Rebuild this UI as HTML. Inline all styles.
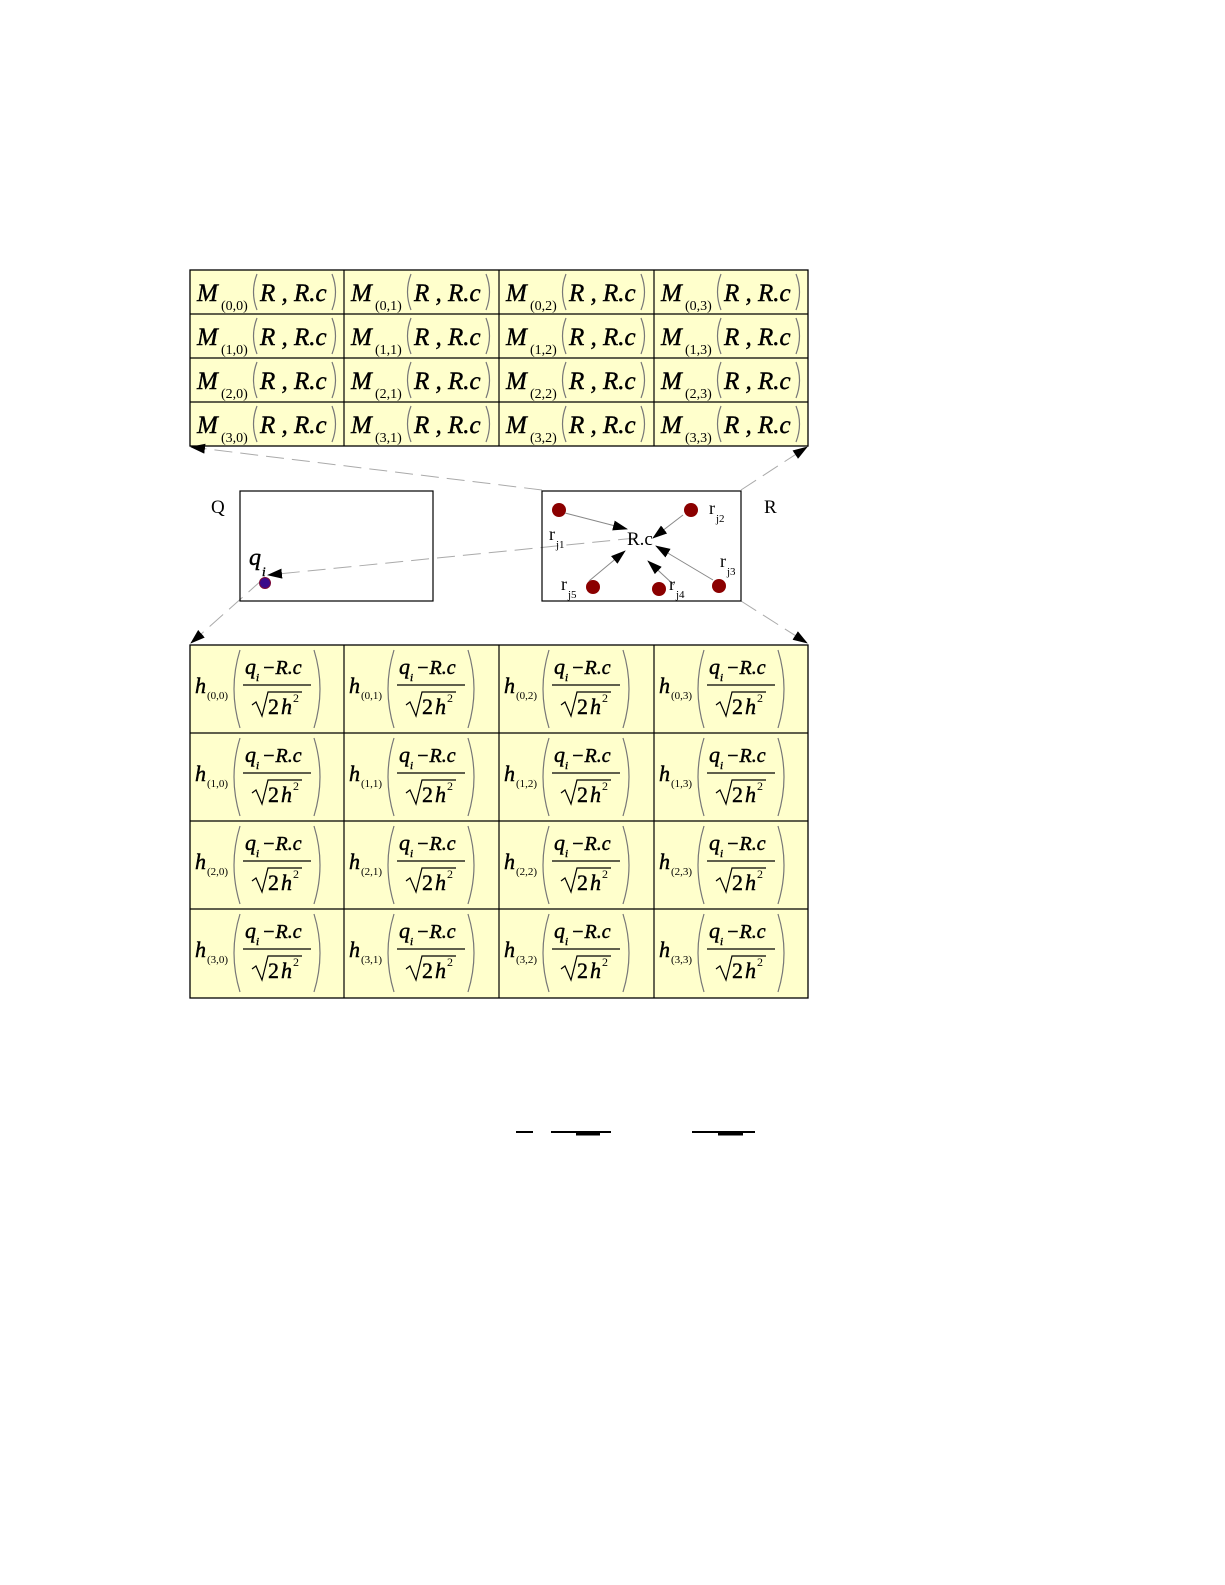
<!DOCTYPE html>
<html><head><meta charset="utf-8"><style>
html,body{margin:0;padding:0;background:#fff;overflow:hidden;width:1225px;height:1585px}
svg{display:block}
text{font-family:"Liberation Serif",serif}
.i{font-style:italic;stroke:#000;stroke-width:0.45}
.p{fill:none;stroke:#777;stroke-width:1.2}
</style></head><body>
<svg width="1225" height="1585" viewBox="0 0 1225 1585" xmlns="http://www.w3.org/2000/svg">
<defs>
<marker id="a" markerWidth="16" markerHeight="10" refX="14" refY="5" orient="auto" markerUnits="userSpaceOnUse"><path d="M0,0 L15,5 L0,10 Z" fill="#000"/></marker>
</defs>
<rect x="190" y="270" width="618" height="176" fill="#ffffcc" stroke="#000" stroke-width="1.3"/>
<g stroke="#000" stroke-width="1.2">
<line x1="190" y1="314" x2="808" y2="314"/><line x1="190" y1="358" x2="808" y2="358"/><line x1="190" y1="402" x2="808" y2="402"/>
<line x1="344" y1="270" x2="344" y2="446"/><line x1="499" y1="270" x2="499" y2="446"/><line x1="654" y1="270" x2="654" y2="446"/>
</g>
<g font-size="25">
<g transform="translate(190,270)"><text x="7" y="31" class="i" font-size="25">M</text><text x="31" y="40" font-size="14">(0,0)</text><path class="p" d="M67,4 Q60,22 67,40M142,4 Q149,22 142,40"/><text x="70" y="31" class="i">R , R.c</text></g>
<g transform="translate(344,270)"><text x="7" y="31" class="i" font-size="25">M</text><text x="31" y="40" font-size="14">(0,1)</text><path class="p" d="M67,4 Q60,22 67,40M142,4 Q149,22 142,40"/><text x="70" y="31" class="i">R , R.c</text></g>
<g transform="translate(499,270)"><text x="7" y="31" class="i" font-size="25">M</text><text x="31" y="40" font-size="14">(0,2)</text><path class="p" d="M67,4 Q60,22 67,40M142,4 Q149,22 142,40"/><text x="70" y="31" class="i">R , R.c</text></g>
<g transform="translate(654,270)"><text x="7" y="31" class="i" font-size="25">M</text><text x="31" y="40" font-size="14">(0,3)</text><path class="p" d="M67,4 Q60,22 67,40M142,4 Q149,22 142,40"/><text x="70" y="31" class="i">R , R.c</text></g>
<g transform="translate(190,314)"><text x="7" y="31" class="i" font-size="25">M</text><text x="31" y="40" font-size="14">(1,0)</text><path class="p" d="M67,4 Q60,22 67,40M142,4 Q149,22 142,40"/><text x="70" y="31" class="i">R , R.c</text></g>
<g transform="translate(344,314)"><text x="7" y="31" class="i" font-size="25">M</text><text x="31" y="40" font-size="14">(1,1)</text><path class="p" d="M67,4 Q60,22 67,40M142,4 Q149,22 142,40"/><text x="70" y="31" class="i">R , R.c</text></g>
<g transform="translate(499,314)"><text x="7" y="31" class="i" font-size="25">M</text><text x="31" y="40" font-size="14">(1,2)</text><path class="p" d="M67,4 Q60,22 67,40M142,4 Q149,22 142,40"/><text x="70" y="31" class="i">R , R.c</text></g>
<g transform="translate(654,314)"><text x="7" y="31" class="i" font-size="25">M</text><text x="31" y="40" font-size="14">(1,3)</text><path class="p" d="M67,4 Q60,22 67,40M142,4 Q149,22 142,40"/><text x="70" y="31" class="i">R , R.c</text></g>
<g transform="translate(190,358)"><text x="7" y="31" class="i" font-size="25">M</text><text x="31" y="40" font-size="14">(2,0)</text><path class="p" d="M67,4 Q60,22 67,40M142,4 Q149,22 142,40"/><text x="70" y="31" class="i">R , R.c</text></g>
<g transform="translate(344,358)"><text x="7" y="31" class="i" font-size="25">M</text><text x="31" y="40" font-size="14">(2,1)</text><path class="p" d="M67,4 Q60,22 67,40M142,4 Q149,22 142,40"/><text x="70" y="31" class="i">R , R.c</text></g>
<g transform="translate(499,358)"><text x="7" y="31" class="i" font-size="25">M</text><text x="31" y="40" font-size="14">(2,2)</text><path class="p" d="M67,4 Q60,22 67,40M142,4 Q149,22 142,40"/><text x="70" y="31" class="i">R , R.c</text></g>
<g transform="translate(654,358)"><text x="7" y="31" class="i" font-size="25">M</text><text x="31" y="40" font-size="14">(2,3)</text><path class="p" d="M67,4 Q60,22 67,40M142,4 Q149,22 142,40"/><text x="70" y="31" class="i">R , R.c</text></g>
<g transform="translate(190,402)"><text x="7" y="31" class="i" font-size="25">M</text><text x="31" y="40" font-size="14">(3,0)</text><path class="p" d="M67,4 Q60,22 67,40M142,4 Q149,22 142,40"/><text x="70" y="31" class="i">R , R.c</text></g>
<g transform="translate(344,402)"><text x="7" y="31" class="i" font-size="25">M</text><text x="31" y="40" font-size="14">(3,1)</text><path class="p" d="M67,4 Q60,22 67,40M142,4 Q149,22 142,40"/><text x="70" y="31" class="i">R , R.c</text></g>
<g transform="translate(499,402)"><text x="7" y="31" class="i" font-size="25">M</text><text x="31" y="40" font-size="14">(3,2)</text><path class="p" d="M67,4 Q60,22 67,40M142,4 Q149,22 142,40"/><text x="70" y="31" class="i">R , R.c</text></g>
<g transform="translate(654,402)"><text x="7" y="31" class="i" font-size="25">M</text><text x="31" y="40" font-size="14">(3,3)</text><path class="p" d="M67,4 Q60,22 67,40M142,4 Q149,22 142,40"/><text x="70" y="31" class="i">R , R.c</text></g>
</g>

<g stroke="#aaa" stroke-width="1" stroke-dasharray="18,8" fill="none">
<line x1="542" y1="490" x2="191" y2="447" marker-end="url(#a)"/>
<line x1="741" y1="490" x2="807" y2="447" marker-end="url(#a)"/>
<line x1="262" y1="580" x2="191" y2="643" marker-end="url(#a)"/>
<line x1="741" y1="601" x2="807" y2="643" marker-end="url(#a)"/>
<line x1="636" y1="538" x2="268" y2="575" marker-end="url(#a)"/>
</g>

<rect x="240" y="491" width="193" height="110" fill="none" stroke="#000" stroke-width="1.2"/>
<text x="211" y="513" font-size="19">Q</text>
<text x="249" y="565" class="i" font-size="24">q</text>
<text x="262" y="576" class="i" font-size="13">i</text>
<circle cx="265" cy="583" r="5.5" fill="#3a0a8a" stroke="#7a0a3a" stroke-width="1"/>

<rect x="542" y="491" width="199" height="110" fill="none" stroke="#000" stroke-width="1.2"/>
<text x="764" y="513" font-size="19">R</text>
<g fill="#8b0000">
<circle cx="559" cy="510" r="7"/><circle cx="691" cy="510" r="7"/><circle cx="719" cy="586" r="7"/><circle cx="659" cy="589" r="7"/><circle cx="593" cy="587" r="7"/>
</g>
<g stroke="#888" stroke-width="1" fill="none">
<line x1="565" y1="513" x2="627" y2="529" marker-end="url(#a)"/>
<line x1="683" y1="515" x2="653" y2="538" marker-end="url(#a)"/>
<line x1="713" y1="580" x2="656" y2="546" marker-end="url(#a)"/>
<line x1="674" y1="585" x2="648" y2="561" marker-end="url(#a)"/>
<line x1="589" y1="581" x2="625" y2="551" marker-end="url(#a)"/>
</g>
<text x="627" y="545" font-size="19">R.c</text>
<g font-size="18">
<text x="549" y="540">r</text><text x="556" y="548" font-size="11">j1</text>
<text x="709" y="514">r</text><text x="716" y="522" font-size="11">j2</text>
<text x="720" y="567">r</text><text x="727" y="575" font-size="11">j3</text>
<text x="669" y="590">r</text><text x="676" y="598" font-size="11">j4</text>
<text x="561" y="590">r</text><text x="568" y="598" font-size="11">j5</text>
</g>

<rect x="190" y="645" width="618" height="353" fill="#ffffcc" stroke="#000" stroke-width="1.3"/>
<g stroke="#000" stroke-width="1.2">
<line x1="190" y1="733" x2="808" y2="733"/><line x1="190" y1="821" x2="808" y2="821"/><line x1="190" y1="909" x2="808" y2="909"/>
<line x1="344" y1="645" x2="344" y2="998"/><line x1="499" y1="645" x2="499" y2="998"/><line x1="654" y1="645" x2="654" y2="998"/>
</g>
<g font-size="20">
<g transform="translate(190,645)"><text x="5" y="48" class="i" font-size="22">h</text><text x="17" y="54" font-size="11">(0,0)</text><path class="p" d="M50,5 Q38,44 50,83M124,5 Q136,44 124,83"/><text x="55" y="29" class="i" font-size="22">q</text><text x="66" y="36" class="i" font-size="11">i</text><text x="72" y="29" class="i" font-size="20">−R.c</text><line x1="53" y1="40" x2="121" y2="40" stroke="#000" stroke-width="1.2"/><path d="M62,60 L66,57 L72,71 L78,47 L112,47" fill="none" stroke="#000" stroke-width="1.2"/><text x="78" y="69" font-size="22" stroke="#000" stroke-width="0.4">2</text><text x="91" y="69" class="i" font-size="22">h</text><text x="103" y="57" font-size="12">2</text></g>
<g transform="translate(344,645)"><text x="5" y="48" class="i" font-size="22">h</text><text x="17" y="54" font-size="11">(0,1)</text><path class="p" d="M50,5 Q38,44 50,83M124,5 Q136,44 124,83"/><text x="55" y="29" class="i" font-size="22">q</text><text x="66" y="36" class="i" font-size="11">i</text><text x="72" y="29" class="i" font-size="20">−R.c</text><line x1="53" y1="40" x2="121" y2="40" stroke="#000" stroke-width="1.2"/><path d="M62,60 L66,57 L72,71 L78,47 L112,47" fill="none" stroke="#000" stroke-width="1.2"/><text x="78" y="69" font-size="22" stroke="#000" stroke-width="0.4">2</text><text x="91" y="69" class="i" font-size="22">h</text><text x="103" y="57" font-size="12">2</text></g>
<g transform="translate(499,645)"><text x="5" y="48" class="i" font-size="22">h</text><text x="17" y="54" font-size="11">(0,2)</text><path class="p" d="M50,5 Q38,44 50,83M124,5 Q136,44 124,83"/><text x="55" y="29" class="i" font-size="22">q</text><text x="66" y="36" class="i" font-size="11">i</text><text x="72" y="29" class="i" font-size="20">−R.c</text><line x1="53" y1="40" x2="121" y2="40" stroke="#000" stroke-width="1.2"/><path d="M62,60 L66,57 L72,71 L78,47 L112,47" fill="none" stroke="#000" stroke-width="1.2"/><text x="78" y="69" font-size="22" stroke="#000" stroke-width="0.4">2</text><text x="91" y="69" class="i" font-size="22">h</text><text x="103" y="57" font-size="12">2</text></g>
<g transform="translate(654,645)"><text x="5" y="48" class="i" font-size="22">h</text><text x="17" y="54" font-size="11">(0,3)</text><path class="p" d="M50,5 Q38,44 50,83M124,5 Q136,44 124,83"/><text x="55" y="29" class="i" font-size="22">q</text><text x="66" y="36" class="i" font-size="11">i</text><text x="72" y="29" class="i" font-size="20">−R.c</text><line x1="53" y1="40" x2="121" y2="40" stroke="#000" stroke-width="1.2"/><path d="M62,60 L66,57 L72,71 L78,47 L112,47" fill="none" stroke="#000" stroke-width="1.2"/><text x="78" y="69" font-size="22" stroke="#000" stroke-width="0.4">2</text><text x="91" y="69" class="i" font-size="22">h</text><text x="103" y="57" font-size="12">2</text></g>
<g transform="translate(190,733)"><text x="5" y="48" class="i" font-size="22">h</text><text x="17" y="54" font-size="11">(1,0)</text><path class="p" d="M50,5 Q38,44 50,83M124,5 Q136,44 124,83"/><text x="55" y="29" class="i" font-size="22">q</text><text x="66" y="36" class="i" font-size="11">i</text><text x="72" y="29" class="i" font-size="20">−R.c</text><line x1="53" y1="40" x2="121" y2="40" stroke="#000" stroke-width="1.2"/><path d="M62,60 L66,57 L72,71 L78,47 L112,47" fill="none" stroke="#000" stroke-width="1.2"/><text x="78" y="69" font-size="22" stroke="#000" stroke-width="0.4">2</text><text x="91" y="69" class="i" font-size="22">h</text><text x="103" y="57" font-size="12">2</text></g>
<g transform="translate(344,733)"><text x="5" y="48" class="i" font-size="22">h</text><text x="17" y="54" font-size="11">(1,1)</text><path class="p" d="M50,5 Q38,44 50,83M124,5 Q136,44 124,83"/><text x="55" y="29" class="i" font-size="22">q</text><text x="66" y="36" class="i" font-size="11">i</text><text x="72" y="29" class="i" font-size="20">−R.c</text><line x1="53" y1="40" x2="121" y2="40" stroke="#000" stroke-width="1.2"/><path d="M62,60 L66,57 L72,71 L78,47 L112,47" fill="none" stroke="#000" stroke-width="1.2"/><text x="78" y="69" font-size="22" stroke="#000" stroke-width="0.4">2</text><text x="91" y="69" class="i" font-size="22">h</text><text x="103" y="57" font-size="12">2</text></g>
<g transform="translate(499,733)"><text x="5" y="48" class="i" font-size="22">h</text><text x="17" y="54" font-size="11">(1,2)</text><path class="p" d="M50,5 Q38,44 50,83M124,5 Q136,44 124,83"/><text x="55" y="29" class="i" font-size="22">q</text><text x="66" y="36" class="i" font-size="11">i</text><text x="72" y="29" class="i" font-size="20">−R.c</text><line x1="53" y1="40" x2="121" y2="40" stroke="#000" stroke-width="1.2"/><path d="M62,60 L66,57 L72,71 L78,47 L112,47" fill="none" stroke="#000" stroke-width="1.2"/><text x="78" y="69" font-size="22" stroke="#000" stroke-width="0.4">2</text><text x="91" y="69" class="i" font-size="22">h</text><text x="103" y="57" font-size="12">2</text></g>
<g transform="translate(654,733)"><text x="5" y="48" class="i" font-size="22">h</text><text x="17" y="54" font-size="11">(1,3)</text><path class="p" d="M50,5 Q38,44 50,83M124,5 Q136,44 124,83"/><text x="55" y="29" class="i" font-size="22">q</text><text x="66" y="36" class="i" font-size="11">i</text><text x="72" y="29" class="i" font-size="20">−R.c</text><line x1="53" y1="40" x2="121" y2="40" stroke="#000" stroke-width="1.2"/><path d="M62,60 L66,57 L72,71 L78,47 L112,47" fill="none" stroke="#000" stroke-width="1.2"/><text x="78" y="69" font-size="22" stroke="#000" stroke-width="0.4">2</text><text x="91" y="69" class="i" font-size="22">h</text><text x="103" y="57" font-size="12">2</text></g>
<g transform="translate(190,821)"><text x="5" y="48" class="i" font-size="22">h</text><text x="17" y="54" font-size="11">(2,0)</text><path class="p" d="M50,5 Q38,44 50,83M124,5 Q136,44 124,83"/><text x="55" y="29" class="i" font-size="22">q</text><text x="66" y="36" class="i" font-size="11">i</text><text x="72" y="29" class="i" font-size="20">−R.c</text><line x1="53" y1="40" x2="121" y2="40" stroke="#000" stroke-width="1.2"/><path d="M62,60 L66,57 L72,71 L78,47 L112,47" fill="none" stroke="#000" stroke-width="1.2"/><text x="78" y="69" font-size="22" stroke="#000" stroke-width="0.4">2</text><text x="91" y="69" class="i" font-size="22">h</text><text x="103" y="57" font-size="12">2</text></g>
<g transform="translate(344,821)"><text x="5" y="48" class="i" font-size="22">h</text><text x="17" y="54" font-size="11">(2,1)</text><path class="p" d="M50,5 Q38,44 50,83M124,5 Q136,44 124,83"/><text x="55" y="29" class="i" font-size="22">q</text><text x="66" y="36" class="i" font-size="11">i</text><text x="72" y="29" class="i" font-size="20">−R.c</text><line x1="53" y1="40" x2="121" y2="40" stroke="#000" stroke-width="1.2"/><path d="M62,60 L66,57 L72,71 L78,47 L112,47" fill="none" stroke="#000" stroke-width="1.2"/><text x="78" y="69" font-size="22" stroke="#000" stroke-width="0.4">2</text><text x="91" y="69" class="i" font-size="22">h</text><text x="103" y="57" font-size="12">2</text></g>
<g transform="translate(499,821)"><text x="5" y="48" class="i" font-size="22">h</text><text x="17" y="54" font-size="11">(2,2)</text><path class="p" d="M50,5 Q38,44 50,83M124,5 Q136,44 124,83"/><text x="55" y="29" class="i" font-size="22">q</text><text x="66" y="36" class="i" font-size="11">i</text><text x="72" y="29" class="i" font-size="20">−R.c</text><line x1="53" y1="40" x2="121" y2="40" stroke="#000" stroke-width="1.2"/><path d="M62,60 L66,57 L72,71 L78,47 L112,47" fill="none" stroke="#000" stroke-width="1.2"/><text x="78" y="69" font-size="22" stroke="#000" stroke-width="0.4">2</text><text x="91" y="69" class="i" font-size="22">h</text><text x="103" y="57" font-size="12">2</text></g>
<g transform="translate(654,821)"><text x="5" y="48" class="i" font-size="22">h</text><text x="17" y="54" font-size="11">(2,3)</text><path class="p" d="M50,5 Q38,44 50,83M124,5 Q136,44 124,83"/><text x="55" y="29" class="i" font-size="22">q</text><text x="66" y="36" class="i" font-size="11">i</text><text x="72" y="29" class="i" font-size="20">−R.c</text><line x1="53" y1="40" x2="121" y2="40" stroke="#000" stroke-width="1.2"/><path d="M62,60 L66,57 L72,71 L78,47 L112,47" fill="none" stroke="#000" stroke-width="1.2"/><text x="78" y="69" font-size="22" stroke="#000" stroke-width="0.4">2</text><text x="91" y="69" class="i" font-size="22">h</text><text x="103" y="57" font-size="12">2</text></g>
<g transform="translate(190,909)"><text x="5" y="48" class="i" font-size="22">h</text><text x="17" y="54" font-size="11">(3,0)</text><path class="p" d="M50,5 Q38,44 50,83M124,5 Q136,44 124,83"/><text x="55" y="29" class="i" font-size="22">q</text><text x="66" y="36" class="i" font-size="11">i</text><text x="72" y="29" class="i" font-size="20">−R.c</text><line x1="53" y1="40" x2="121" y2="40" stroke="#000" stroke-width="1.2"/><path d="M62,60 L66,57 L72,71 L78,47 L112,47" fill="none" stroke="#000" stroke-width="1.2"/><text x="78" y="69" font-size="22" stroke="#000" stroke-width="0.4">2</text><text x="91" y="69" class="i" font-size="22">h</text><text x="103" y="57" font-size="12">2</text></g>
<g transform="translate(344,909)"><text x="5" y="48" class="i" font-size="22">h</text><text x="17" y="54" font-size="11">(3,1)</text><path class="p" d="M50,5 Q38,44 50,83M124,5 Q136,44 124,83"/><text x="55" y="29" class="i" font-size="22">q</text><text x="66" y="36" class="i" font-size="11">i</text><text x="72" y="29" class="i" font-size="20">−R.c</text><line x1="53" y1="40" x2="121" y2="40" stroke="#000" stroke-width="1.2"/><path d="M62,60 L66,57 L72,71 L78,47 L112,47" fill="none" stroke="#000" stroke-width="1.2"/><text x="78" y="69" font-size="22" stroke="#000" stroke-width="0.4">2</text><text x="91" y="69" class="i" font-size="22">h</text><text x="103" y="57" font-size="12">2</text></g>
<g transform="translate(499,909)"><text x="5" y="48" class="i" font-size="22">h</text><text x="17" y="54" font-size="11">(3,2)</text><path class="p" d="M50,5 Q38,44 50,83M124,5 Q136,44 124,83"/><text x="55" y="29" class="i" font-size="22">q</text><text x="66" y="36" class="i" font-size="11">i</text><text x="72" y="29" class="i" font-size="20">−R.c</text><line x1="53" y1="40" x2="121" y2="40" stroke="#000" stroke-width="1.2"/><path d="M62,60 L66,57 L72,71 L78,47 L112,47" fill="none" stroke="#000" stroke-width="1.2"/><text x="78" y="69" font-size="22" stroke="#000" stroke-width="0.4">2</text><text x="91" y="69" class="i" font-size="22">h</text><text x="103" y="57" font-size="12">2</text></g>
<g transform="translate(654,909)"><text x="5" y="48" class="i" font-size="22">h</text><text x="17" y="54" font-size="11">(3,3)</text><path class="p" d="M50,5 Q38,44 50,83M124,5 Q136,44 124,83"/><text x="55" y="29" class="i" font-size="22">q</text><text x="66" y="36" class="i" font-size="11">i</text><text x="72" y="29" class="i" font-size="20">−R.c</text><line x1="53" y1="40" x2="121" y2="40" stroke="#000" stroke-width="1.2"/><path d="M62,60 L66,57 L72,71 L78,47 L112,47" fill="none" stroke="#000" stroke-width="1.2"/><text x="78" y="69" font-size="22" stroke="#000" stroke-width="0.4">2</text><text x="91" y="69" class="i" font-size="22">h</text><text x="103" y="57" font-size="12">2</text></g>
</g>

<g stroke="#000">
<line x1="516" y1="1132" x2="533" y2="1132" stroke-width="2"/>
<line x1="551" y1="1132" x2="611" y2="1132" stroke-width="2"/>
<line x1="576" y1="1134" x2="600" y2="1134" stroke-width="3"/>
<line x1="692" y1="1132" x2="755" y2="1132" stroke-width="2"/>
<line x1="718" y1="1134" x2="743" y2="1134" stroke-width="3"/>
</g>
</svg>
</body></html>
